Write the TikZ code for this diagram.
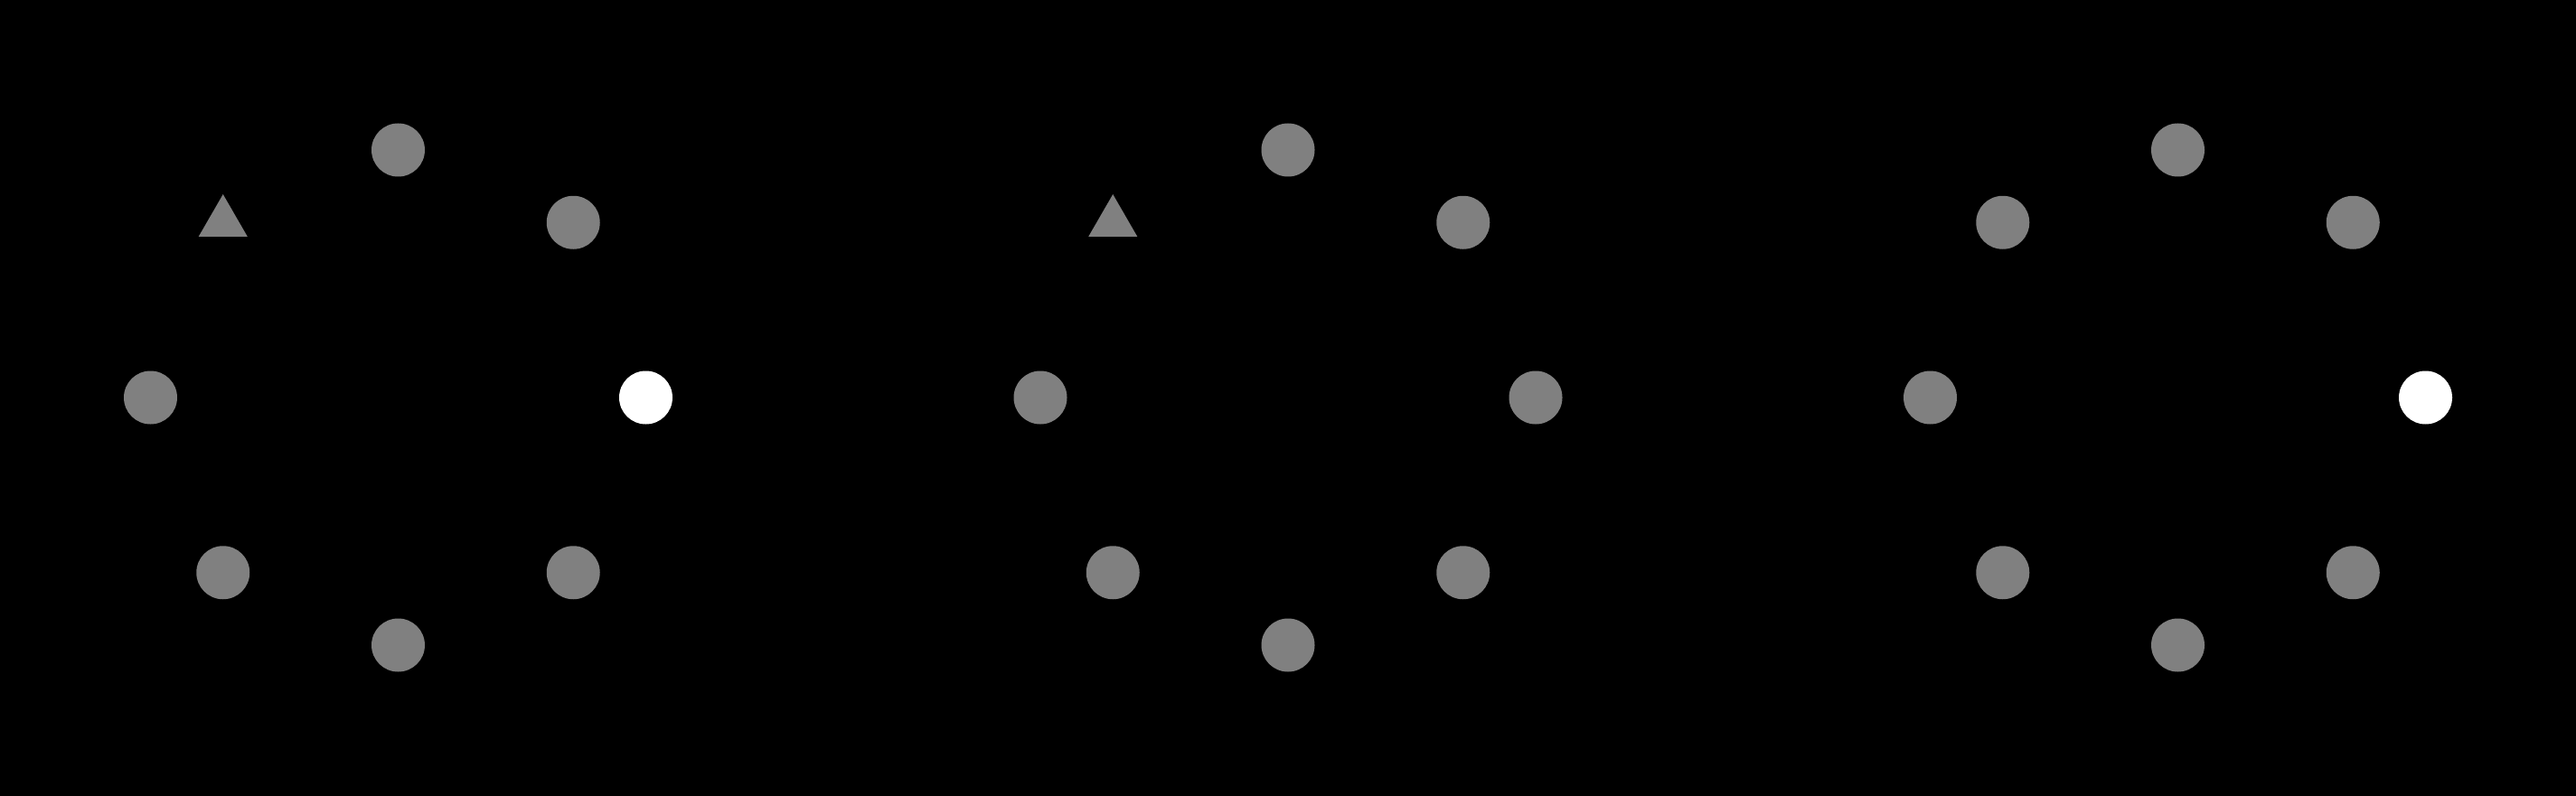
\documentclass[tikz,border=0pt]{standalone}
\usepackage{tikz}
\usetikzlibrary{shapes.geometric, positioning, scopes}
\definecolor{dotgray}{HTML}{808080}
\definecolor{dotwhite}{HTML}{FFFFFF}
\definecolor{bgblack}{HTML}{000000}
\tikzset{
  % Sample points
  dot/.style={
    circle, minimum size=0.59cm, inner sep=0pt, draw=none, fill=#1,
  },
  dot/.default={dotgray},
  % Marked sample
  marker/.style={
    regular polygon, regular polygon sides=3, minimum size=0.624cm,
    inner sep=0pt, draw=none, fill=#1,
  },
  marker/.default={dotgray},
}
\begin{document}
\begin{tikzpicture}

  % Background
  \useasboundingbox (0, 0) rectangle (28.5, 8.8);
  \fill[bgblack] (-0.2, -0.2) rectangle (28.7, 9.0);

  % Left panel
  \begin{scope}[shift={(4.405, 4.4)}]
    \node[dot=dotwhite] (a-e)  at (0:2.74)   {};
    \node[dot]          (a-ne) at (45:2.74)  {};
    \node[dot]          (a-n)  at (90:2.74)  {};
    \node[marker]       (a-nw) at (135:2.74) {};
    \node[dot]          (a-w)  at (180:2.74) {};
    \node[dot]          (a-sw) at (225:2.74) {};
    \node[dot]          (a-s)  at (270:2.74) {};
    \node[dot]          (a-se) at (315:2.74) {};
  \end{scope}

  % Middle panel
  \begin{scope}[shift={(14.25, 4.4)}]
    \node[dot]          (b-e)  at (0:2.74)   {};
    \node[dot]          (b-ne) at (45:2.74)  {};
    \node[dot]          (b-n)  at (90:2.74)  {};
    \node[marker]       (b-nw) at (135:2.74) {};
    \node[dot]          (b-w)  at (180:2.74) {};
    \node[dot]          (b-sw) at (225:2.74) {};
    \node[dot]          (b-s)  at (270:2.74) {};
    \node[dot]          (b-se) at (315:2.74) {};
  \end{scope}

  % Right panel
  \begin{scope}[shift={(24.095, 4.4)}]
    \node[dot=dotwhite] (c-e)  at (0:2.74)   {};
    \node[dot]          (c-ne) at (45:2.74)  {};
    \node[dot]          (c-n)  at (90:2.74)  {};
    \node[dot]          (c-nw) at (135:2.74) {};
    \node[dot]          (c-w)  at (180:2.74) {};
    \node[dot]          (c-sw) at (225:2.74) {};
    \node[dot]          (c-s)  at (270:2.74) {};
    \node[dot]          (c-se) at (315:2.74) {};
  \end{scope}

\end{tikzpicture}
\end{document}
